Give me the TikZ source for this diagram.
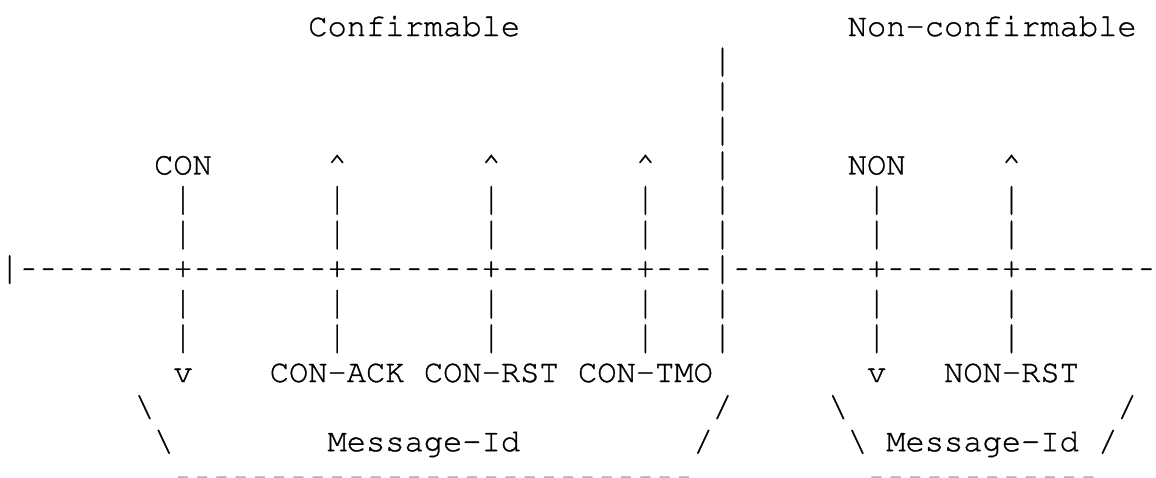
\documentclass[tikz,border=0pt]{standalone}
\usepackage[T1]{fontenc}
\usepackage{courier}
\usepackage{graphicx}
\begin{document}
\begin{tikzpicture}[x=1pt,y=1pt,
  ch/.style={anchor=base west,inner sep=0pt,outer sep=0pt,
    font=\fontsize{32.1}{34.6}\selectfont\ttfamily},
  faint/.style={ch,text=black!40}]
\def\W{19.267}
\def\P{34.6}
\def\T{36}
\newcommand\heavy[1]{\special{pdf:literal direct 2 Tr 0.3 w}#1\special{pdf:literal direct 0 Tr}}
\newcommand\glyph[5][ch]{\node[#1] (#2) at ({(#3)*\W},{-\T-(#4)*\P}) {\heavy{#5}};}
\newcommand\vbar{\raisebox{-1pt}{\scalebox{1}[1.24]{|}}}
\newcommand\hy{\makebox[0.6em][c]{\scalebox{0.72}[1]{-}}}
\useasboundingbox (0,0) rectangle (1156,-477);
% row 0
\glyph{conf}{16}{0}{Confirmable}
\glyph{nonconf}{44}{0}{Non-confirmable}
% divider above
\foreach \r in {1,2,3} {\glyph{div\r}{37}{\r}{\vbar}}
% row 4
\glyph{con}{8}{4}{CON}
\foreach \c in {17,25,33,52} {\glyph{up\c}{\c}{4}{\textasciicircum}}
\glyph{div4}{37}{4}{\vbar}
\glyph{non}{44}{4}{NON}
% vertical bars
\foreach \r in {5,6,8,9} {
  \foreach \c in {9,17,25,33,37,45,52} {\glyph{bar\r x\c}{\c}{\r}{\vbar}}
}
% row 7 : time line
\glyph{start}{0}{7}{\vbar}
\glyph{div7}{37}{7}{\vbar}
\foreach \c in {9,17,25,33,45,52} {\glyph{plus\c}{\c}{7}{+}}
\foreach \a/\b in {1/8,10/16,18/24,26/32,34/36,38/44,46/51,53/59} {
  \foreach \c in {\a,...,\b} {\glyph{dash\c}{\c}{7}{\hy}}
}
% row 10
\glyph{vcon}{9}{10}{v}
\glyph{conack}{14}{10}{CON-ACK}
\glyph{conrst}{22}{10}{CON-RST}
\glyph{contmo}{30}{10}{CON-TMO}
\glyph{vnon}{45}{10}{v}
\glyph{nonrst}{49}{10}{NON-RST}
% row 11
\glyph{bsa}{7}{11}{\textbackslash}
\glyph{sla}{37}{11}{/}
\glyph{bsb}{43}{11}{\textbackslash}
\glyph{slb}{58}{11}{/}
% row 12
\glyph{bsc}{8}{12}{\textbackslash}
\glyph{mida}{17}{12}{Message-Id}
\glyph{slc}{36}{12}{/}
\glyph{bsd}{44}{12}{\textbackslash}
\glyph{midb}{46}{12}{Message-Id}
\glyph{sld}{57}{12}{/}
% row 13 (cut by the lower edge)
\foreach \a/\b in {9/35,45/56} {
  \foreach \c in {\a,...,\b} {\node[faint] (low\c) at ({\c*\W},{-\T-13.02*\P}) {\hy};}
}
\end{tikzpicture}
\end{document}
